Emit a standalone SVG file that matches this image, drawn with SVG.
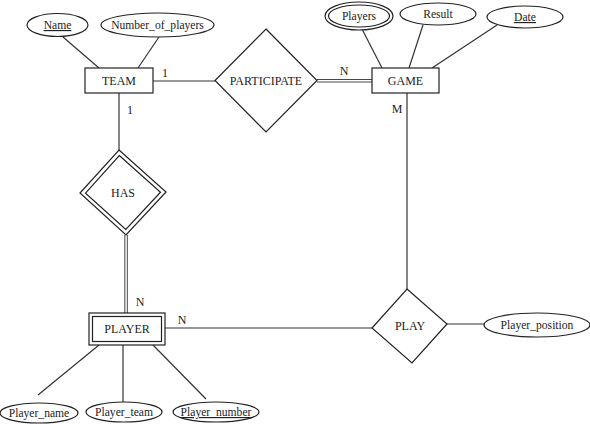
<svg xmlns="http://www.w3.org/2000/svg" width="590" height="424" viewBox="0 0 590 424">
<style>
.s{fill:#fff;stroke:#222;stroke-width:1.2}
.l{fill:none;stroke:#333;stroke-width:1.2}
.d{fill:none;stroke:#333;stroke-width:0.9}
.t{font-family:'Liberation Serif','Times New Roman',serif;font-size:12px;fill:#222;text-anchor:middle}
.a{font-size:11.6px}
.u{text-decoration:underline}
</style>
<rect width="590" height="424" fill="#fff"/>
<g id="connectors">
<line class="l" x1="63" y1="37" x2="99" y2="68"/>
<line class="l" x1="159" y1="37" x2="138" y2="68"/>
<line class="l" x1="153" y1="81" x2="215" y2="81"/>
<line class="d" x1="317" y1="79.5" x2="372" y2="79.5"/>
<line class="d" x1="317" y1="82" x2="372" y2="82"/>
<line class="l" x1="362" y1="29" x2="382" y2="68"/>
<line class="l" x1="423" y1="25" x2="409" y2="68"/>
<line class="l" x1="497" y1="25" x2="432" y2="68"/>
<line class="l" x1="119" y1="93" x2="119" y2="151"/>
<line class="d" x1="124.8" y1="235" x2="124.8" y2="313"/>
<line class="d" x1="127.3" y1="235" x2="127.3" y2="313"/>
<line class="l" x1="407" y1="93" x2="407" y2="289"/>
<line class="l" x1="165" y1="328" x2="372" y2="328"/>
<line class="l" x1="447" y1="324" x2="484" y2="324"/>
<line class="l" x1="99" y1="345" x2="38" y2="395"/>
<line class="l" x1="123" y1="345" x2="123" y2="402"/>
<line class="l" x1="153" y1="345" x2="206" y2="399"/>
<text class="t" x="165" y="77">1</text>
<text class="t" x="130" y="114">1</text>
<text class="t" x="344" y="75">N</text>
<text class="t" x="397" y="113">M</text>
<text class="t" x="140" y="306">N</text>
<text class="t" x="182" y="324">N</text>
</g>
<g id="attr-name"><ellipse class="s" cx="57.5" cy="25" rx="30.5" ry="11.5"/><text class="t a u" x="57.5" y="29">Name</text></g>
<g id="attr-number-of-players"><ellipse class="s" cx="157.5" cy="25" rx="56.5" ry="12"/><text class="t a" x="157.5" y="29">Number_of_players</text></g>
<g id="team"><rect class="s" x="85" y="68" width="68" height="25"/><text class="t" x="119" y="85">TEAM</text></g>
<g id="participate"><polygon class="s" points="266,29 317,80.5 266,132 215,80.5"/><text class="t" x="266" y="85">PARTICIPATE</text></g>
<g id="game"><rect class="s" x="372" y="68" width="67" height="25"/><text class="t" x="405.5" y="85">GAME</text></g>
<g id="attr-players"><ellipse class="s" cx="359" cy="16" rx="34" ry="14"/><ellipse class="s" cx="359" cy="16" rx="30.5" ry="11"/><text class="t a" x="359" y="20">Players</text></g>
<g id="attr-result"><ellipse class="s" cx="438" cy="14" rx="38" ry="11"/><text class="t a" x="438" y="18">Result</text></g>
<g id="attr-date"><ellipse class="s" cx="525" cy="17" rx="38" ry="11"/><text class="t a u" x="525" y="21">Date</text></g>
<g id="has"><polygon class="s" points="119,150 166,192 126,235 80,193"/><polygon class="s" points="119.3,155.5 160.5,192.2 125.8,229.5 85.5,193.2"/><text class="t" x="123" y="197">HAS</text></g>
<g id="player"><rect class="s" x="89" y="313" width="76" height="32"/><rect class="s" x="92.5" y="316.5" width="69" height="25"/><text class="t" x="127" y="333">PLAYER</text></g>
<g id="play"><polygon class="s" points="407,289 447,324 412,363 372,328"/><text class="t" x="410" y="330">PLAY</text></g>
<g id="attr-player-position"><ellipse class="s" cx="537" cy="325" rx="53" ry="12"/><text class="t a" x="537" y="329">Player_position</text></g>
<g id="attr-player-name"><ellipse class="s" cx="39" cy="413" rx="39" ry="10"/><text class="t a" x="39" y="417">Player_name</text></g>
<g id="attr-player-team"><ellipse class="s" cx="124" cy="412" rx="38" ry="10"/><text class="t a" x="124" y="416">Player_team</text></g>
<g id="attr-player-number"><ellipse class="s" cx="216" cy="412" rx="43" ry="10"/><text class="t a u" x="216" y="416">Player_number</text></g>
</svg>
